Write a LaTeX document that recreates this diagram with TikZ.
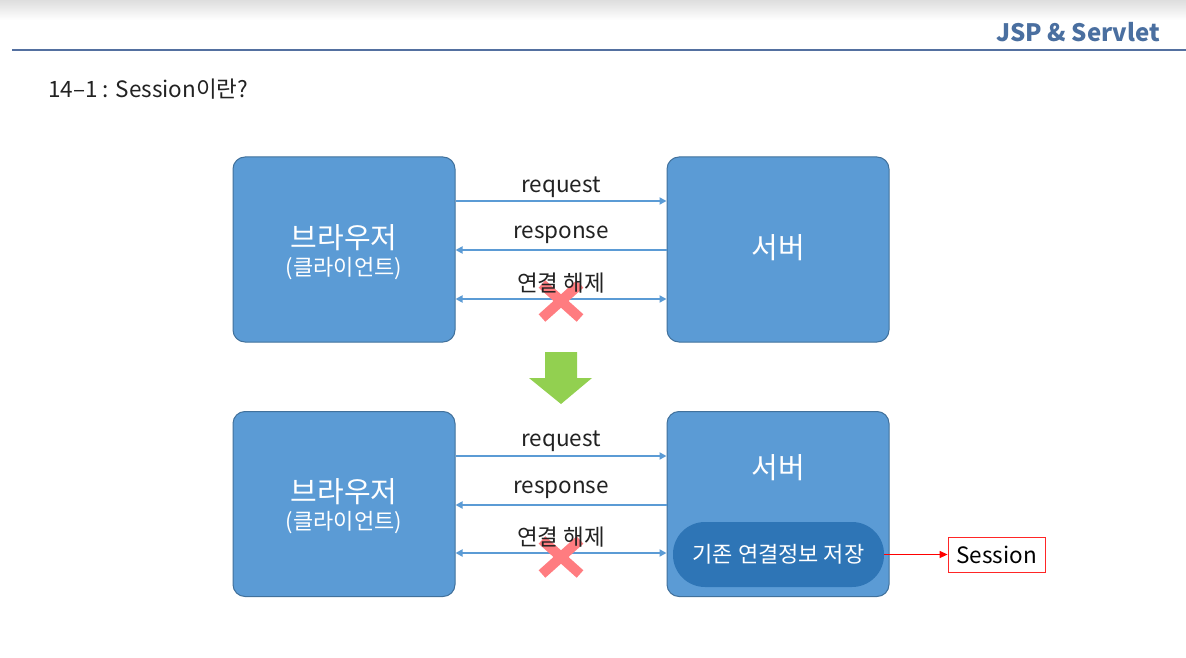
\documentclass[tikz,border=0pt]{standalone}
\usepackage{fontspec}
\setmainfont{Noto Sans CJK KR}
\usetikzlibrary{arrows.meta,calc}
\definecolor{boxblue}{HTML}{5B9BD5}
\definecolor{boxedge}{HTML}{41719C}
\definecolor{pillblue}{HTML}{2E75B6}
\definecolor{xpink}{HTML}{FF7C80}
\definecolor{garrow}{HTML}{92D050}
\definecolor{hdrblue}{HTML}{4A6FA0}
\definecolor{rulecol}{HTML}{5470A0}
\definecolor{txt}{HTML}{222222}
\newcommand{\fsz}[1]{\fontsize{#1}{#1}\selectfont}
\begin{document}
\begin{tikzpicture}[x=1pt,y=-1pt,
  box/.style={draw=boxedge, line width=1pt, fill=boxblue, rounded corners=12pt,
    minimum width=222pt, minimum height=185pt, inner sep=0pt},
  bigtxt/.style={text=white, font=\fsz{29}, inner sep=0pt},
  subtxt/.style={text=white, font=\fsz{22}, inner sep=0pt},
  lbl/.style={text=txt, font=\fsz{22.5}, inner sep=0pt},
  flow/.style={draw=boxblue, line width=2pt},
  tipr/.style={-{Triangle[length=7pt,width=7pt]}},
  tipb/.style={{Triangle[length=7pt,width=7pt]}-{Triangle[length=7pt,width=7pt]}},
  xmark/.style={draw=xpink, line width=10pt},
]
\useasboundingbox (0,0) rectangle (1186,658);
\fill[white] (0,0) rectangle (1186,658);
\shade[top color=black!13, bottom color=white] (0,0) rectangle (1186,20);

% header
\node[anchor=east, text=hdrblue, font=\fsz{24}\bfseries, inner sep=0pt] (hdr) at (1160,32) {JSP \& Servlet};
\draw[rulecol, line width=2.5pt] (12,50) -- (1186,50);
\node[anchor=west, text=txt, font=\fsz{22.5}, inner sep=0pt] (title) at (48,89) {14{\char"2013}1 : Session이란?};

% top row
\node[box] (tl) at (344,249.5) {};
\node[box] (tr) at (778,249.5) {};
\node[bigtxt] (tlt) at (344,238) {브라우저};
\node[subtxt] (tls) at (344,269) {(클라이언트)};
\node[bigtxt] (trt) at (778,248) {서버};

\draw[flow,tipr] (tl.east |- 0,201) -- (tr.west |- 0,201);
\draw[flow,tipr] (tr.west |- 0,250) -- (tl.east |- 0,250);
\draw[flow,tipb] (tl.east |- 0,299) -- (tr.west |- 0,299);
\coordinate (x1) at (561,301);
\draw[xmark] ($(x1)+(-19,-17)$) -- ($(x1)+(19,17)$);
\draw[xmark] ($(x1)+(19,-17)$) -- ($(x1)+(-19,17)$);
\node[lbl] (req1) at (561,187) {request};
\node[lbl] (res1) at (561,235) {response};
\node[lbl] (dis1) at (561,283) {연결 해제};

% green arrow
\fill[garrow] (545,352) -- (577,352) -- (577,378) -- (592,378) -- (561,404) -- (529,378) -- (545,378) -- cycle;

% bottom row
\node[box] (bl) at (344,504) {};
\node[box] (br) at (778,504) {};
\node[bigtxt] (blt) at (344,492) {브라우저};
\node[subtxt] (bls) at (344,523) {(클라이언트)};
\node[bigtxt] (brt) at (778,468) {서버};
\node[draw=none, fill=pillblue, rounded corners=32pt, minimum width=211pt, minimum height=65pt,
  text=white, font=\fsz{22}, inner sep=0pt] (pill) at (778.5,554.5) {기존 연결정보 저장};

\draw[flow,tipr] (bl.east |- 0,456) -- (br.west |- 0,456);
\draw[flow,tipr] (br.west |- 0,505) -- (bl.east |- 0,505);
\draw[flow,tipb] (bl.east |- 0,553) -- (br.west |- 0,553);
\coordinate (x2) at (561,557);
\draw[xmark] ($(x2)+(-19,-17)$) -- ($(x2)+(19,17)$);
\draw[xmark] ($(x2)+(19,-17)$) -- ($(x2)+(-19,17)$);
\node[lbl] (req2) at (561,441) {request};
\node[lbl] (res2) at (561,490) {response};
\node[lbl] (dis2) at (561,537) {연결 해제};

% session
\node[draw=red!85, line width=0.8pt, fill=white, minimum width=97pt, minimum height=35pt,
  text=black, font=\fsz{22.5}, inner sep=0pt] (sess) at (996.5,554.5) {Session};
\draw[red, line width=1.4pt, -{Triangle[length=8pt,width=7pt]}] (pill.east) -- (sess.west);
\end{tikzpicture}
\end{document}
